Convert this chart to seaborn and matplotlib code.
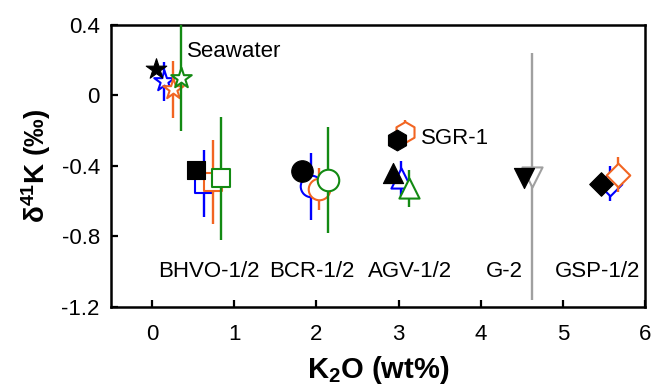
import numpy as np
import pandas as pd
import matplotlib
matplotlib.use("Agg")
import matplotlib.pyplot as plt
import seaborn as sns

# Reference materials and the marker shape used for each
samples = ["Seawater", "BHVO-1/2", "BCR-1/2", "AGV-1/2", "SGR-1", "G-2", "GSP-1/2"]
sample_markers = ["*", "s", "o", "^", "h", "v", "D"]

# Recommended values (filled black symbols)
black_samples = ["Seawater", "BHVO-1/2", "BCR-1/2", "AGV-1/2", "SGR-1", "G-2", "GSP-1/2"]
black_k2o = [0.05, 0.53, 1.83, 2.93, 2.98, 4.53, 5.46]
black_d41k = [0.15, -0.42, -0.43, -0.44, -0.25, -0.47, -0.50]

# Literature values (open symbols, 2SD error bars)
blue_samples = ["Seawater", "BHVO-1/2", "BCR-1/2", "AGV-1/2", "GSP-1/2"]
blue_k2o = [0.15, 0.63, 1.94, 3.03, 5.57]
blue_d41k = [0.08, -0.50, -0.515, -0.47, -0.50]
blue_err = [0.11, 0.19, 0.19, 0.10, 0.10]

orange_samples = ["Seawater", "BHVO-1/2", "BCR-1/2", "SGR-1", "GSP-1/2"]
orange_k2o = [0.25, 0.74, 2.03, 3.08, 5.67]
orange_d41k = [0.035, -0.49, -0.53, -0.21, -0.45]
orange_err = [0.16, 0.24, 0.12, 0.07, 0.10]

green_samples = ["Seawater", "BHVO-1/2", "BCR-1/2", "AGV-1/2"]
green_k2o = [0.35, 0.84, 2.14, 3.13]
green_d41k = [0.10, -0.47, -0.48, -0.525]
green_err = [0.30, 0.35, 0.30, 0.105]

gray_samples = ["G-2"]
gray_k2o = [4.63]
gray_d41k = [-0.46]
gray_err = [0.70]

# Sample names printed along the bottom of the plot
bottom_labels = ["BHVO-1/2", "BCR-1/2", "AGV-1/2", "G-2", "GSP-1/2"]
bottom_label_x = [0.69, 1.95, 3.14, 4.29, 5.42]
bottom_label_y = -1.0

x_ticks = [0, 1, 2, 3, 4, 5, 6]
y_ticks = [0.4, 0, -0.4, -0.8, -1.2]
y_tick_labels = ["0.4", "0", "-0.4", "-0.8", "-1.2"]


def make_frame(names, k2o, d41k, err=None):
    return pd.DataFrame({
        "sample": names,
        "k2o": k2o,
        "d41k": d41k,
        "err": err if err is not None else [np.nan] * len(names),
    })


series = [
    ("#0000ff", False, make_frame(blue_samples, blue_k2o, blue_d41k, blue_err)),
    ("#f26522", False, make_frame(orange_samples, orange_k2o, orange_d41k, orange_err)),
    ("#138a13", False, make_frame(green_samples, green_k2o, green_d41k, green_err)),
    ("#a0a0a0", False, make_frame(gray_samples, gray_k2o, gray_d41k, gray_err)),
    ("#000000", True, make_frame(black_samples, black_k2o, black_d41k)),
]

marker_of = dict(zip(samples, sample_markers))
marker_size = {"*": 15.5, "s": 13, "o": 15.5, "^": 14.5, "h": 15, "v": 14.5, "D": 12}

sns.set_style("ticks")
plt.rcParams["font.family"] = ["Liberation Sans", "DejaVu Sans"]
plt.rcParams["axes.unicode_minus"] = False
plt.rcParams["mathtext.fontset"] = "custom"
plt.rcParams["mathtext.rm"] = "Liberation Sans"
plt.rcParams["mathtext.bf"] = "Liberation Sans:bold"
plt.rcParams["mathtext.it"] = "Liberation Sans:italic"
for key in ["text.color", "axes.labelcolor", "xtick.color", "ytick.color",
            "axes.edgecolor"]:
    plt.rcParams[key] = "black"

fig = plt.figure(figsize=(6.54, 3.88), dpi=100)
ax = fig.add_axes([0.1697, 0.2088, 0.8165, 0.7268])

for i, (color, filled, df) in enumerate(series):
    z = 3 + 2 * i
    bars = df.dropna(subset=["err"])
    if len(bars):
        ax.errorbar(bars["k2o"], bars["d41k"], yerr=bars["err"], fmt="none",
                    ecolor=color, elinewidth=1.7, capsize=0, zorder=z)
    for _, row in df.iterrows():
        m = marker_of[row["sample"]]
        sns.scatterplot(x=[row["k2o"]], y=[row["d41k"]], ax=ax, marker=m,
                        s=marker_size[m] ** 2,
                        facecolor=color if filled else "white",
                        edgecolor=color, linewidth=1.5 if not filled else 0.8,
                        zorder=z + 1, legend=False)

ax.text(0.43, 0.25, "Seawater", fontsize=16, ha="left", va="center", color="black")
ax.text(3.27, -0.245, "SGR-1", fontsize=16, ha="left", va="center", color="black")
for name, xpos in zip(bottom_labels, bottom_label_x):
    ax.text(xpos, bottom_label_y, name, fontsize=16, ha="center", va="center",
            color="black")

ax.set_xlim(-0.5, 6)
ax.set_ylim(-1.2, 0.4)
ax.set_xticks(x_ticks)
ax.set_xticklabels([str(t) for t in x_ticks])
ax.set_yticks(y_ticks)
ax.set_yticklabels(y_tick_labels)
ax.tick_params(axis="both", direction="in", length=5, width=1.6,
               labelsize=16, top=False, right=False, colors="black")
ax.tick_params(axis="x", pad=12)
ax.tick_params(axis="y", pad=8)
for sp in ax.spines.values():
    sp.set_visible(True)
    sp.set_linewidth(1.8)
    sp.set_color("black")

ax.set_xlabel(r"K$_{\mathbf{2}}$O (wt%)", fontsize=21, fontweight="bold",
              labelpad=7, color="black")
ax.set_ylabel(r"δ$^{\mathbf{41}}$K (‰)", fontsize=20, fontweight="bold",
              labelpad=6, color="black")

fig.savefig("out.png", dpi=100)
